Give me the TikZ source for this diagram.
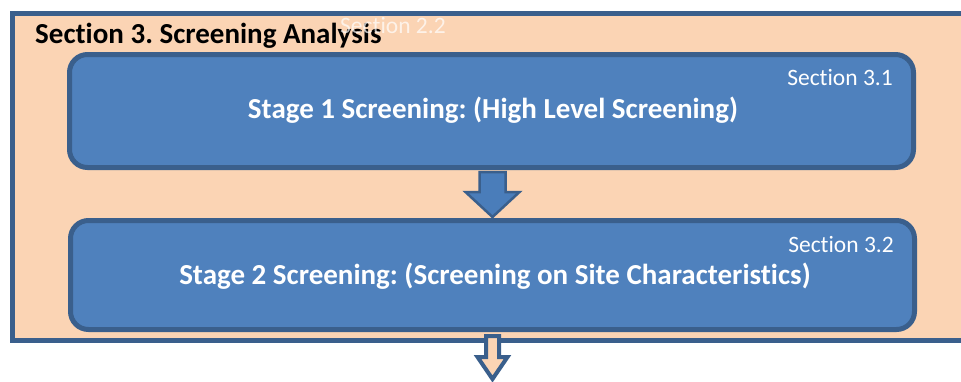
\documentclass[tikz,border=0pt]{standalone}
\usepackage{fontspec}
\setmainfont[Ligatures=NoCommon]{Carlito}
\usetikzlibrary{calc}
\frenchspacing
\definecolor{peach}{HTML}{FBD4B4}
\definecolor{bordblue}{HTML}{3A5F8C}
\definecolor{boxblue}{HTML}{4F81BD}
\definecolor{arrblue}{HTML}{4A7DBA}
\tikzset{
  stagebox/.style={draw=bordblue, line width=5pt, fill=boxblue, rounded corners=18pt},
  outerbox/.style={draw=bordblue, line width=5pt, fill=peach},
  stagetext/.style={text=white, anchor=base, inner sep=0pt, font=\bfseries\fontsize{29}{34}\selectfont},
  sectext/.style={text=white, anchor=base east, inner sep=0pt, font=\fontsize{23.5}{28}\selectfont},
}
\begin{document}
\begin{tikzpicture}[x=1pt,y=-1pt]
\useasboundingbox (0,0) rectangle (961,381);
\clip (0,0) rectangle (961,381);
\fill[white] (0,0) rectangle (961,381);
% outer box
\draw[outerbox] (12.5,13.5) rectangle (975,340.5);
\node[anchor=base west, inner sep=0pt, font=\bfseries\fontsize{29}{34}\selectfont] (title) at (35,43) {Section 3. Screening Analysis};
\node[anchor=base west, inner sep=0pt, text=white, opacity=0.7, font=\fontsize{23.5}{28}\selectfont] (sec22) at (340,33) {Section 2.2};
% stage boxes
\draw[stagebox] (69.5,54.5) rectangle (913.5,167.5);
\node[stagetext] (s1) at (493,118) {Stage 1 Screening: (High Level Screening)};
\node[sectext] (sec31) at (893,85) {Section 3.1};
\draw[stagebox] (70.5,220.5) rectangle (914.5,329.5);
\node[stagetext] (s2) at (495,284) {Stage 2 Screening: (Screening on Site Characteristics)};
\node[sectext] (sec32) at (894,252) {Section 3.2};
% arrow between stages
\coordinate (a1) at (492.5,172);
\filldraw[fill=arrblue, draw=bordblue, line width=2.5pt, line join=miter]
  ($(a1)+(-13,0)$) -- ($(a1)+(13,0)$) -- ($(a1)+(13,20)$) -- ($(a1)+(27,20)$)
  -- ($(a1)+(0,45)$) -- ($(a1)+(-27,20)$) -- ($(a1)+(-13,20)$) -- cycle;
% outgoing arrow
\coordinate (a2) at (492.5,336);
\filldraw[fill=peach, draw=bordblue, line width=4pt, line join=miter]
  ($(a2)+(-6.5,0)$) -- ($(a2)+(6.5,0)$) -- ($(a2)+(6.5,21)$) -- ($(a2)+(15,21)$)
  -- ($(a2)+(0,43)$) -- ($(a2)+(-15,21)$) -- ($(a2)+(-6.5,21)$) -- cycle;
\end{tikzpicture}
\end{document}
